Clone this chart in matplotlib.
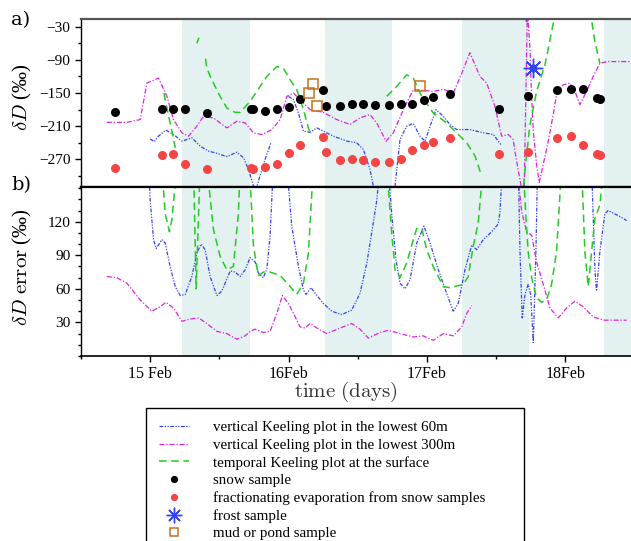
import numpy as np
import matplotlib
matplotlib.use("Agg")
import matplotlib.pyplot as plt
from matplotlib.ticker import MultipleLocator, FixedLocator

nan = float("nan")

# ---------------- data (days of February, delta D in permil) ----------------
sample_day = [14.747, 15.082, 15.164, 15.248, 15.414, 15.727, 15.746, 15.832, 15.915, 16.001,
              16.083, 16.251, 16.271, 16.374, 16.456, 16.540, 16.625, 16.728, 16.810, 16.894,
              16.978, 17.041, 17.166, 17.520, 17.729, 17.936, 18.042, 18.124, 18.225, 18.249]
snow_dD = [-185, -179, -178, -179, -186, -178, -179, -182, -179, -175,
           -161, -145, -174, -173, -169, -170, -172, -172, -169, -169,
           -163, -157, -151, -178, -156, -145, -143, -143, -159, -161]
evap_dD = [-285, -262, -261, -278, -288, -285, -287, -284, -278, -258,
           -244, -230, -257, -271, -269, -272, -274, -275, -269, -253,
           -244, -238, -232, -260, -257, -232, -228, -244, -260, -263]

mud_day = [16.146, 16.175, 16.204, 16.947]
mud_dD = [-150, -134, -174, -137]

frost_day = [17.766]
frost_dD = [-104]

v60_day = [15.0, 15.029, 15.060, 15.113, 15.168, 15.229, 15.301, 15.361, 15.421, 15.482, 15.554,
           15.626, 15.674, 15.710, 15.746, 15.760, 15.782, 15.830, 15.874, nan,
           15.999, 16.035, 16.071, 16.107, 16.155, 16.204, 16.251, 16.324, 16.420, 16.492, 16.540,
           16.588, 16.612, 16.690, 16.769, 16.805, 16.853, 16.901, 16.949, 16.986, 17.022, 17.065,
           17.118, 17.166, 17.214, 17.310, 17.407, 17.479, 17.539, nan,
           17.691, 17.720, 17.744]
v60_dD = [-233, -238, -228, -217, -225, -237, -231, -246, -255, -259, -265,
          -257, -267, -288, -318, -330, -309, -270, -239, nan,
          -156, -162, -186, -219, -221, -213, -219, -228, -237, -240, -252,
          -288, -318, -400, -318, -234, -210, -205, -228, -237, -210, -180,
          -192, -207, -216, -216, -222, -225, -245, nan,
          -5, -22, -5]

v300_day = [14.687, 14.832, 14.928, 14.976, 15.060, 15.121, 15.168, 15.229, 15.277, 15.337,
            15.385, 15.457, 15.554, 15.626, 15.686, 15.746, 15.807, 15.879, 15.939, 15.987,
            16.035, 16.083, 16.155, 16.251, 16.348, 16.444, 16.516, 16.588, 16.637, 16.704,
            16.757, 16.829, 16.901, 16.973, 17.045, 17.118, 17.190, 17.251, 17.310, 17.383,
            17.431, 17.491, 17.539, 17.587, 17.623, 17.635, 17.684, 17.700, 17.725, 17.731,
            17.744, 17.756, 17.768, 17.792, 17.811, 17.840, 17.876, 17.912, 17.936, 17.984,
            18.032, 18.069, 18.105, 18.153, 18.201, 18.249, 18.309, 18.466]
v300_dD = [-203, -203, -198, -132, -123, -156, -198, -222, -228, -210,
           -192, -195, -213, -201, -204, -222, -225, -216, -198, -156,
           -150, -162, -180, -185, -198, -207, -195, -189, -204, -237,
           -222, -180, -144, -145, -147, -143, -150, -114, -77, -120,
           -132, -174, -228, -225, -234, -255, -324, -360, 0, -18,
           -69, -159, -219, -279, -312, -279, -237, -189, -153, -135,
           -132, -147, -171, -147, -120, -96, -93, -93]

temp_day = [15.100, 15.108, 15.145, 15.181, nan,
            15.337, 15.352, nan,
            15.400, 15.409, 15.445, 15.505, 15.554, 15.614, 15.650, 15.722, 15.770, 15.843,
            15.915, 15.962, 16.011, 16.059, 16.107, 16.143, 16.155, nan,
            16.709, 16.781, 16.853, 16.901, 16.962, 17.045, 17.142, 17.214, 17.287, 17.347,
            17.395, nan,
            17.690, 17.695, 17.720, 17.744, 17.792, 17.852, 17.912, 17.930, nan,
            18.180, 18.189, 18.213, 18.249]
temp_dD = [-150, -162, -205, -249, nan,
           -60, -50, nan,
           -88, -105, -126, -156, -177, -185, -185, -165, -147, -120,
           -102, -105, -126, -144, -180, -213, -222, nan,
           -156, -138, -117, -123, -156, -186, -204, -222, -240, -264,
           -300, nan,
           -340, -324, -261, -207, -147, -99, -24, 0, nan,
           0, -18, -57, -96]

v60e_day = [14.988, 15.0, 15.024, 15.043, 15.084, 15.108, 15.144, 15.181, 15.217, 15.253, 15.301,
            15.337, 15.368, 15.397, 15.433, 15.482, 15.518, 15.578, 15.614, 15.650, 15.686,
            15.722, 15.758, 15.782, 15.818, 15.843, 15.866, 15.890, nan,
            15.987, 16.023, 16.071, 16.107, 16.126, 16.162, 16.199, 16.251, 16.312, 16.384,
            16.456, 16.516, 16.565, 16.612, 16.637, 16.661, nan,
            16.718, 16.745, 16.776, 16.805, 16.841, 16.877, 16.926, 16.978, 17.022, 17.082,
            17.142, 17.190, 17.226, 17.274, 17.323, 17.359, 17.407, 17.467, 17.515, 17.527,
            17.546, nan,
            17.659, 17.672, 17.688, 17.708, 17.731, 17.749, 17.768, 17.787, 17.799, nan,
            18.189, 18.213, 18.225, 18.249, 18.285, 18.309, 18.357, 18.417, 18.442]
v60e_err = [170, 139, 104, 96, 104, 101, 80, 62, 54, 55, 71,
            92, 100, 95, 71, 54, 58, 76, 75, 71, 77,
            88, 84, 74, 70, 78, 107, 170, nan,
            170, 116, 80, 59, 55, 61, 55, 47, 40, 37,
            41, 56, 83, 119, 139, 170, nan,
            170, 127, 86, 65, 60, 68, 101, 116, 101, 77,
            56, 40, 47, 77, 99, 95, 104, 111, 118, 129,
            170, nan,
            170, 93, 34, 55, 64, 55, 12, 93, 170, nan,
            170, 78, 58, 93, 127, 130, 127, 123, 121]

v300e_day = [14.687, 14.759, 14.832, 14.928, 15.012, 15.072, 15.113, 15.168, 15.229, 15.289,
             15.349, 15.409, 15.482, 15.554, 15.626, 15.686, 15.722, 15.758, 15.818, 15.866,
             15.915, 15.955, 15.999, 16.035, 16.083, 16.119, 16.155, 16.204, 16.276, 16.372,
             16.456, 16.516, 16.576, 16.661, 16.721, 16.805, 16.901, 16.973, 17.045, 17.118,
             17.190, 17.251, 17.287, 17.323, nan,
             17.648, 17.684, 17.720, 17.756, 17.792, 17.840, 17.888, 17.948, 18.009, 18.069,
             18.128, 18.201, 18.273, 18.442]
v300e_err = [71, 70, 65, 50, 40, 44, 48, 43, 31, 33,
             34, 29, 22, 20, 15, 18, 22, 24, 21, 22,
             38, 54, 47, 38, 26, 25, 29, 25, 20, 25,
             29, 24, 16, 21, 23, 20, 17, 18, 14, 20,
             18, 26, 38, 45, nan,
             170, 129, 111, 108, 84, 64, 43, 34, 43, 49,
             44, 35, 32, 32]

tempe_day = [15.084, 15.108, 15.139, 15.157, 15.193, nan,
             15.313, 15.332, 15.361, nan,
             15.409, 15.457, 15.505, 15.554, 15.601, 15.637, 15.650, nan,
             15.717, 15.746, 15.782, 15.818, 15.866, 15.939, 16.011, 16.059, 16.107, 16.143,
             16.179, nan,
             16.709, 16.745, 16.769, 16.805, 16.853, 16.901, 16.926, 16.962, 16.998, 17.045,
             17.118, 17.166, 17.262, 17.298, 17.334, 17.370, 17.407, nan,
             17.695, 17.715, 17.731, 17.756, 17.792, 17.828, 17.864, 17.900, 17.936, 17.973, nan,
             18.117, 18.141, 18.165, 18.189, 18.213, 18.249, 18.269]
tempe_err = [170, 127, 111, 122, 170, nan,
             170, 60, 170, nan,
             170, 113, 89, 77, 80, 127, 170, nan,
             170, 98, 72, 75, 75, 72, 62, 55, 65, 92,
             170, nan,
             170, 110, 77, 70, 83, 104, 114, 114, 95, 80,
             62, 61, 64, 71, 98, 119, 170, nan,
             170, 123, 93, 70, 52, 48, 50, 64, 93, 170, nan,
             170, 93, 62, 93, 123, 135, 160]

night_start = [15.23, 16.26, 17.25, 18.28]
night_end = [15.72, 16.75, 17.74, 18.70]

xtick_pos = [15, 16, 17, 18]
xtick_labels = ["15 Feb", "16Feb", "17Feb", "18Feb"]

legend_labels = ["vertical Keeling plot in the lowest 60m",
                 "vertical Keeling plot in the lowest 300m",
                 "temporal Keeling plot at the surface",
                 "snow sample",
                 "fractionating evaporation from snow samples",
                 "frost sample",
                 "mud or pond sample"]

# ---------------- styles ----------------
plt.rcParams["mathtext.fontset"] = "cm"
plt.rcParams["font.family"] = ["Liberation Serif", "DejaVu Serif"]

c_blue = "#3344ee"
c_mag = "#dd22dd"
c_green = "#22cc22"
c_red = "#f44444"
c_orange = "#c8701e"
c_shade = "#e3f1f1"
d_blue = (3, 1.2, 1, 1.2, 1, 1.2)
d_mag = (4, 1.5, 1, 1.5)
d_green = (5, 3)

W, H = 631, 541
fig = plt.figure(figsize=(W / 100, H / 100), dpi=100)

x0 = 81 / W
xlim = (14.5, 18.474)
ax1 = fig.add_axes([x0, 1 - 187 / H, 1 - x0, (187 - 19) / H])
ax2 = fig.add_axes([x0, 1 - 356 / H, 1 - x0, (356 - 187) / H])

for ax in (ax1, ax2):
    for s, e in zip(night_start, night_end):
        ax.axvspan(s, e, color=c_shade, lw=0, zorder=0)
    ax.set_xlim(*xlim)
    ax.xaxis.set_major_locator(FixedLocator(xtick_pos))
    ax.xaxis.set_minor_locator(MultipleLocator(0.5))
    ax.spines["right"].set_visible(False)
    ax.tick_params(axis="both", which="major", length=4, width=1.0, labelsize=11)
    ax.tick_params(axis="both", which="minor", length=2.5, width=1.0)

# top panel
l60, = ax1.plot(v60_day, v60_dD, color=c_blue, lw=0.9, dashes=d_blue, zorder=2)
l300, = ax1.plot(v300_day, v300_dD, color=c_mag, lw=0.9, dashes=d_mag, zorder=2)
ltmp, = ax1.plot(temp_day, temp_dD, color=c_green, lw=1.1, dashes=d_green, zorder=2)
lsnow, = ax1.plot(sample_day, snow_dD, "o", color="black", ms=6.5, mew=0, zorder=4)
levap, = ax1.plot(sample_day, evap_dD, "o", color=c_red, ms=6.5, mew=0, zorder=4)
ax1.plot(frost_day, frost_dD, "o", color=c_blue, ms=6, mew=0, zorder=5)
lfrost, = ax1.plot(frost_day, frost_dD, marker=(8, 2, 0), ls="none", color=c_blue,
                   ms=14, mew=1.0, zorder=5)
lmud, = ax1.plot(mud_day, mud_dD, "s", mfc="none", mec=c_orange, ms=6.5, mew=1.1, zorder=4)

ax1.set_ylim(-320, -16)
ax1.yaxis.set_major_locator(FixedLocator([-30, -90, -150, -210, -270]))
ax1.yaxis.set_minor_locator(MultipleLocator(30))
ax1.tick_params(axis="x", which="both", labelbottom=False)
ax1.spines["top"].set_color("#555555")
ax1.spines["top"].set_linewidth(1.6)
ax1.spines["bottom"].set_linewidth(1.6)
ax1.spines["left"].set_linewidth(1.0)

# bottom panel
ax2.plot(v60e_day, v60e_err, color=c_blue, lw=0.9, dashes=d_blue, zorder=2)
ax2.plot(v300e_day, v300e_err, color=c_mag, lw=0.9, dashes=d_mag, zorder=2)
ax2.plot(tempe_day, tempe_err, color=c_green, lw=1.1, dashes=d_green, zorder=2)
ax2.set_ylim(0, 151)
ax2.yaxis.set_major_locator(FixedLocator([30, 60, 90, 120]))
ax2.yaxis.set_minor_locator(MultipleLocator(10))
ax2.set_xticks(xtick_pos)
ax2.set_xticklabels(xtick_labels, fontsize=11.5)
ax2.spines["top"].set_linewidth(1.6)
ax2.spines["bottom"].set_linewidth(1.2)
ax2.spines["left"].set_linewidth(1.0)

# labels
fig.text(21 / W, 1 - 20 / H, "a)", fontsize=14, ha="center", va="center",
         family=["DejaVu Serif"], fontweight="light")
fig.text(21 / W, 1 - 185 / H, "b)", fontsize=14, ha="center", va="center",
         family=["DejaVu Serif"], fontweight="light")
fig.text(22 / W, 1 - 97 / H, r"$\delta D$ (‰)", rotation=90, fontsize=15,
         ha="center", va="center")
fig.text(22 / W, 1 - 267 / H, r"$\delta D\ \mathrm{error}$ (‰)", rotation=90, fontsize=15,
         ha="center", va="center")
fig.text(346 / W, 1 - 392 / H, r"$\mathrm{time\ (days)}$", fontsize=15,
         ha="center", va="center", color="#333333")

handles = [l60, l300, ltmp, lsnow, levap, lfrost, lmud]
leg_top = 1 - 408 / H
leg = fig.legend(handles, legend_labels, loc="upper left", mode="expand",
                 bbox_to_anchor=(146 / W, 0.0, (524 - 146) / W, leg_top),
                 bbox_transform=fig.transFigure,
                 borderaxespad=0, fontsize=10.8, frameon=True, fancybox=False,
                 edgecolor="black", framealpha=1, borderpad=0.85, labelspacing=0.27,
                 handlelength=2.0, handletextpad=1.6, numpoints=1, markerscale=0.8)
leg.get_frame().set_linewidth(1.0)

fig.savefig("out.png", dpi=100)
